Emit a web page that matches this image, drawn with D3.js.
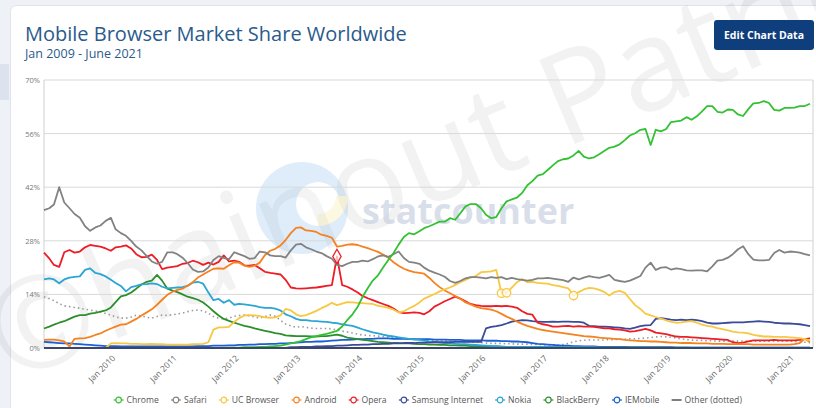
<!DOCTYPE html>
<html lang="en">
<head>
  <meta charset="UTF-8">
  <title>Mobile Browser Market Share Worldwide</title>
  <script src="https://cdn.jsdelivr.net/npm/d3@7/dist/d3.min.js"></script>
  <style>
    body { margin: 0; background: #eef1f6; font-family: "Open Sans", sans-serif; }
    svg { display: block; }
  </style>
</head>
<body>
  <script>
    // Monthly data, Jan 2009 - Jun 2021 (one row per year)
    const startMonth = new Date(2009, 0, 1);
    const endMonth = new Date(2021, 5, 1);
    const months = d3.timeMonth.range(startMonth, d3.timeMonth.offset(endMonth, 1));

    const seriesNames = ["Chrome", "Safari", "UC Browser", "Android", "Opera",
      "Samsung Internet", "Nokia", "BlackBerry", "IEMobile", "Other (dotted)"];

    const chrome = [
      0,0,0,0,0,0,0,0,0,0,0,0,
      0,0,0,0,0,0,0,0,0,0,0,0,
      0,0,0,0,0,0,0,0,0,0,0,0,
      0.1,0.1,0.1,0.2,0.2,0.2,0.3,0.3,0.4,0.5,0.6,0.9,
      1.2,1.5,1.8,2.3,2.8,3.1,3.4,3.7,4.1,4.5,5.6,7.3,
      8.8,10.8,13.3,15.6,17.6,19.0,21.0,23.0,24.8,27.0,29.0,30.0,
      29.7,30.5,31.3,31.8,32.4,33.0,33.0,33.9,33.5,35.2,37.0,37.6,
      37.6,36.5,34.8,33.9,34.2,36.5,38.3,38.8,39.3,40.5,42.5,43.6,
      45.0,45.4,46.5,47.7,48.8,49.3,49.5,50.3,51.5,50.0,49.5,49.8,
      50.6,51.5,52.3,52.6,53.2,54.3,55.5,56.1,57.0,57.2,53.0,57.0,
      56.6,57.2,59.0,59.2,59.4,60.3,59.6,60.5,61.8,63.2,63.2,61.7,
      61.5,62.3,62.2,61.0,60.6,62.4,63.9,64.0,64.5,64.0,62.2,62.0,
      62.7,62.7,62.8,63.2,63.2,63.8
    ];
    const safari = [
      36.0,36.5,37.5,42.0,38.0,36.5,35.0,34.0,31.8,30.6,31.5,32.0,
      33.2,34.0,31.0,30.0,29.3,28.0,26.5,25.5,24.0,22.6,22.0,22.5,
      25.0,25.0,24.5,23.6,22.2,20.5,19.9,20.0,21.0,23.0,24.0,23.5,
      23.2,25.0,24.5,24.0,23.3,23.5,25.2,25.0,24.2,24.0,24.0,23.6,
      25.5,27.0,27.2,26.3,25.8,25.2,24.8,24.0,23.3,21.7,21.4,22.0,
      22.5,22.5,22.8,22.6,23.2,23.9,24.2,23.8,24.5,25.2,23.5,22.5,
      22.3,22.0,21.0,20.2,19.7,19.2,18.6,17.5,17.0,17.5,18.2,18.5,
      18.5,18.4,18.2,18.5,18.3,18.5,18.0,18.3,18.0,17.8,17.6,17.8,
      18.2,18.2,18.3,18.1,17.9,17.7,17.3,18.4,17.9,18.4,18.8,18.5,
      18.3,18.7,19.1,17.8,17.5,17.3,17.6,18.2,18.8,21.0,22.3,20.4,
      21.0,21.1,20.5,20.8,20.6,20.3,20.2,20.3,20.3,20.0,21.3,22.8,
      23.0,23.6,24.5,25.8,26.6,24.5,23.1,22.9,22.9,23.0,24.8,25.6,
      24.9,25.2,25.1,24.9,24.5,24.2
    ];
    const ucBrowser = [
      0,0,0,0,0,0,0,0,0,0,0,0,
      0,1.2,1.3,1.2,1.2,1.1,1.1,1.0,1.0,1.1,1.0,1.0,
      0.9,0.9,0.9,0.9,0.9,1.0,1.0,1.1,1.5,4.8,5.4,5.4,
      5.5,6.8,7.8,8.5,8.6,8.5,8.3,8.0,7.9,8.0,8.5,10.2,
      9.8,8.8,8.3,8.6,9.1,9.7,10.4,11.0,11.8,11.2,11.6,12.0,
      11.9,11.8,11.7,11.6,11.5,11.0,10.8,10.5,10.0,9.3,9.6,10.3,
      11.0,11.9,12.9,13.5,14.1,14.8,15.3,15.8,16.5,17.2,17.8,18.4,
      18.8,19.8,19.9,20.0,20.4,14.3,14.4,15.8,17.2,18.0,17.2,17.3,
      17.0,16.9,16.8,16.4,16.2,15.9,15.6,13.7,14.6,15.3,15.7,15.6,
      15.2,14.6,13.7,14.6,14.9,14.4,12.8,11.2,10.2,9.0,8.5,8.1,
      7.7,7.2,6.8,6.6,6.7,6.9,7.0,6.6,6.1,5.8,5.6,5.2,
      4.9,4.6,4.3,4.1,4.0,3.8,3.4,3.2,3.0,3.0,2.9,2.9,
      2.9,2.8,2.7,2.6,2.3,2.0
    ];
    const android = [
      2.1,2.2,2.2,2.0,1.7,0.4,2.4,2.5,2.6,2.9,3.4,3.8,
      4.5,5.1,5.6,6.1,6.2,6.9,7.6,8.5,9.3,10.1,11.3,12.6,
      13.9,14.7,15.2,15.5,16.3,17.2,18.4,19.2,20.0,20.7,20.8,20.7,
      21.6,22.4,22.3,21.5,21.2,21.5,22.3,24.3,25.4,25.9,26.8,28.2,
      30.0,31.4,31.5,30.7,30.6,30.3,29.6,29.3,28.8,26.5,26.7,27.0,
      27.1,26.9,26.5,26.1,25.6,25.1,24.4,23.6,22.4,21.5,20.7,20.2,
      19.8,19.6,19.4,18.3,17.0,15.9,15.0,14.3,13.6,12.9,11.9,11.4,
      10.8,10.4,10.2,10.0,9.6,8.9,8.2,7.6,6.9,6.3,5.8,5.4,
      5.0,4.7,4.5,4.3,4.1,3.9,3.7,3.5,3.3,3.1,3.0,2.9,
      2.7,2.6,2.5,2.4,2.3,2.1,2.0,1.9,1.8,1.8,1.7,1.7,
      1.6,1.5,1.4,1.4,1.3,1.3,1.3,1.2,1.2,1.2,1.1,1.1,
      1.1,1.0,1.0,1.0,1.0,1.0,0.9,0.9,0.9,0.9,0.9,0.9,
      0.9,0.9,1.0,1.3,2.4,1.6
    ];
    const opera = [
      24.9,23.4,21.7,21.2,25.0,25.6,24.9,25.2,26.3,26.9,26.7,26.5,
      26.0,25.4,26.3,26.5,26.8,26.0,24.5,23.7,23.8,24.4,23.0,20.6,
      21.0,21.2,21.4,22.0,22.2,22.8,22.4,21.7,22.3,21.8,22.5,24.2,
      22.6,22.8,22.5,21.6,21.5,21.7,20.8,19.9,19.6,19.4,19.2,17.8,
      15.8,15.6,15.5,15.6,15.7,15.8,16.0,16.2,16.4,23.9,16.4,16.0,
      15.3,14.5,13.6,13.0,12.5,12.0,11.5,11.0,10.3,9.4,9.1,9.2,
      9.3,9.2,8.8,9.6,10.8,11.5,12.2,12.8,13.4,12.9,12.2,11.5,
      11.2,11.0,10.9,10.9,11.0,10.9,11.0,10.8,10.5,9.6,8.9,8.7,
      6.6,6.2,6.0,5.6,5.6,5.7,5.8,5.6,5.7,5.6,5.6,5.5,
      5.3,5.1,5.1,4.9,4.8,4.6,4.3,4.4,4.7,5.0,4.6,4.0,
      3.8,3.6,3.3,3.0,2.9,2.9,2.8,2.7,2.6,2.5,2.4,2.3,
      2.2,2.1,1.5,1.3,1.4,1.7,2.0,2.0,2.0,2.0,2.1,2.0,
      2.0,2.0,2.0,2.1,2.3,2.5
    ];
    const samsung = [
      0,0,0,0,0,0,0,0,0,0,0,0,
      0,0,0,0,0,0,0,0,0,0,0,0,
      0,0,0,0,0,0,0,0,0,0,0,0,
      0,0,0,0,0,0,0,0,0,0,0,0,
      0.2,0.2,0.3,0.3,0.3,0.4,0.4,0.5,0.5,0.6,0.6,0.7,
      0.8,0.8,0.9,0.9,1.0,1.0,1.1,1.1,1.2,1.2,1.3,1.3,
      1.3,1.4,1.4,1.4,1.5,1.5,1.5,1.5,1.6,1.6,1.6,1.6,
      1.6,1.6,5.1,5.5,5.7,6.0,6.4,6.9,7.1,7.3,7.2,7.0,
      6.9,6.8,6.8,6.9,6.8,6.9,6.9,6.8,6.8,6.6,5.8,5.7,
      5.6,5.6,5.5,5.4,5.3,5.1,5.0,5.3,5.7,5.9,6.0,7.6,
      7.8,7.6,7.4,7.3,7.4,7.3,7.4,7.3,7.0,6.6,6.4,6.4,
      6.5,6.6,6.7,6.7,6.7,6.8,6.9,7.0,6.9,6.8,6.6,6.5,
      6.4,6.4,6.3,6.2,6.0,5.7
    ];
    const nokia = [
      17.9,18.2,17.9,16.9,17.9,18.4,18.6,18.7,20.4,20.8,19.6,19.3,
      18.7,17.8,17.0,16.2,14.8,15.9,16.2,16.6,16.7,16.9,16.7,16.0,
      15.6,15.7,15.8,15.9,16.2,17.1,17.3,16.8,14.5,12.5,12.8,11.8,
      12.5,11.3,11.5,11.4,11.2,11.0,10.7,10.5,10.5,10.3,9.8,8.8,
      8.3,7.6,7.3,7.3,7.1,7.0,6.9,6.8,6.6,6.5,6.2,6.0,
      5.8,5.3,4.9,4.5,4.1,3.8,3.5,3.2,3.0,2.8,2.6,2.4,
      2.2,2.1,1.9,1.7,1.6,1.4,1.3,1.2,1.1,1.0,1.0,0.9,
      0.8,0.7,0.6,0.5,0.5,0.4,0.3,0.3,0.3,0.3,0.3,0.3,
      0.3,0.3,0.3,0.2,0.2,0.2,0.2,0.2,0.2,0.2,0.2,0.2,
      0.1,0.1,0.1,0.1,0.1,0.1,0.1,0.1,0.1,0.1,0.1,0.1,
      0.1,0.1,0.1,0.1,0.1,0.1,0.1,0.1,0.1,0.1,0.1,0.1,
      0.1,0.1,0.1,0.1,0.1,0.1,0.1,0.1,0.1,0.1,0.1,0.1,
      0.1,0.1,0.1,0.1,0.1,0.1
    ];
    const blackberry = [
      5.1,5.6,6.1,6.6,7.0,7.6,8.2,8.6,8.6,9.0,9.2,9.5,
      9.8,10.6,12.0,13.5,13.8,14.5,15.5,16.6,17.3,17.6,19.1,17.6,
      15.5,15.0,14.6,14.0,13.4,13.0,12.6,11.9,10.8,9.6,8.5,7.6,
      7.1,6.6,6.2,5.8,5.5,5.1,4.8,4.5,4.2,3.9,3.7,3.3,
      3.2,3.1,3.1,3.1,3.0,3.0,3.1,3.1,3.3,3.5,3.2,2.7,
      2.5,2.3,2.1,2.0,1.8,1.6,1.5,1.4,1.3,1.3,1.2,1.2,
      1.1,1.0,1.0,0.9,0.9,0.8,0.8,0.7,0.7,0.6,0.6,0.5,
      0.5,0.5,0.4,0.4,0.4,0.3,0.3,0.3,0.3,0.2,0.2,0.2,
      0.2,0.2,0.2,0.2,0.2,0.2,0.1,0.1,0.1,0.1,0.1,0.1,
      0.1,0.1,0.1,0.1,0.1,0.1,0.1,0.1,0.1,0.1,0.1,0.1,
      0.1,0.1,0.1,0.1,0.1,0.1,0,0,0,0,0,0,
      0,0,0,0,0,0,0,0,0,0,0,0,
      0,0,0,0,0,0
    ];
    const ieMobile = [
      1.6,1.5,1.4,1.3,1.2,1.2,1.1,1.0,0.9,0.8,0.7,0.6,
      0.5,0.5,0.5,0.4,0.4,0.4,0.4,0.4,0.4,0.4,0.4,0.4,
      0.4,0.4,0.4,0.4,0.4,0.4,0.5,0.5,0.5,0.6,0.6,0.6,
      0.7,0.7,0.8,0.8,0.9,0.9,1.0,1.0,1.1,1.1,1.2,1.2,
      1.3,1.4,1.5,1.6,1.6,1.7,1.7,1.8,1.9,2.0,2.1,2.1,
      2.2,2.3,2.3,2.4,2.4,2.5,2.5,2.5,2.4,2.4,2.4,2.3,
      2.3,2.3,2.3,2.3,2.2,2.2,2.2,2.1,2.1,2.1,2.0,2.0,
      2.0,2.0,1.9,1.9,1.9,1.8,1.8,1.7,1.7,1.6,1.5,1.3,
      1.1,1.0,0.9,0.8,0.7,0.6,0.6,0.5,0.5,0.4,0.4,0.4,
      0.3,0.3,0.3,0.3,0.3,0.3,0.2,0.2,0.2,0.2,0.2,0.2,
      0.2,0.2,0.2,0.1,0.1,0.1,0.1,0.1,0.1,0.1,0.1,0.1,
      0.1,0.1,0.1,0.1,0.1,0.1,0.1,0.1,0.1,0.1,0.1,0.1,
      0.1,0.1,0.1,0.1,0.1,0.1
    ];
    const other = [
      13.4,12.9,12.4,11.6,11.0,10.8,10.6,10.4,10.1,9.9,9.7,9.4,
      9.0,8.6,8.1,7.8,7.8,8.1,8.6,8.4,8.0,7.8,8.2,8.6,
      8.5,8.7,8.9,9.1,9.5,9.8,9.9,9.7,9.1,8.2,7.8,7.6,
      7.8,8.3,8.5,8.6,8.4,8.1,7.8,8.2,8.6,8.3,7.2,6.3,
      5.8,5.4,5.6,5.4,5.2,5.1,5.1,5.1,5.0,4.7,4.4,4.2,
      3.9,3.6,3.4,3.3,3.2,3.1,3.0,2.9,2.8,2.6,2.5,2.4,
      2.3,2.2,2.1,2.0,1.9,1.9,1.8,1.7,1.7,1.6,1.6,1.5,
      1.5,1.4,1.3,1.2,1.2,1.2,1.1,1.1,1.0,1.0,1.0,0.9,
      0.9,0.8,0.8,0.8,0.8,0.9,1.2,1.6,1.9,2.0,2.1,2.1,
      2.1,2.1,2.2,2.2,2.3,2.3,2.4,2.4,2.5,2.6,2.7,2.9,
      3.0,2.9,2.8,2.6,2.4,2.2,2.1,2.0,2.0,1.9,1.9,1.8,
      1.8,1.8,1.8,1.8,1.8,1.8,1.8,1.8,1.8,1.8,1.8,1.8,
      1.8,1.8,1.7,1.6,1.5,1.4
    ];

    const seriesValues = [chrome, safari, ucBrowser, android, opera,
      samsung, nokia, blackberry, ieMobile, other];
    const seriesColors = ["#33c133", "#828282", "#f7c842", "#f5821f", "#ee1c25",
      "#3a4b9a", "#2aa5d4", "#2c8f2c", "#1b5fd6", "#9a9a9a"];

    const yTicks = [0, 14, 28, 42, 56, 70];
    const xTickYears = [2010, 2011, 2012, 2013, 2014, 2015, 2016, 2017, 2018, 2019, 2020, 2021];

    // highlighted points (hollow markers in the picture)
    const highlights = [
      { series: "Opera", month: 57, shape: "diamond" },
      { series: "UC Browser", month: 89, shape: "circle" },
      { series: "UC Browser", month: 90, shape: "circle" },
      { series: "UC Browser", month: 103, shape: "circle" }
    ];

    const width = 816, height = 408;
    const svg = d3.select("body").append("svg")
      .attr("width", width)
      .attr("height", height);

    // page card
    svg.append("rect").attr("x", 0).attr("y", 0).attr("width", width).attr("height", height)
      .attr("fill", "#eef1f6");
    svg.append("rect").attr("x", 0).attr("y", 64).attr("width", 9).attr("height", 36)
      .attr("fill", "#dde3ee");
    svg.append("rect").attr("x", 10.5).attr("y", 5.5).attr("width", 830).attr("height", 420)
      .attr("rx", 6).attr("fill", "#ffffff").attr("stroke", "#dfe4ec");

    // watermarks
    const wm = svg.append("g");
    wm.append("text")
      .attr("transform", "translate(10,384) rotate(-23)")
      .attr("font-size", 128)
      .attr("font-family", "Open Sans, sans-serif")
      .attr("fill", "#000").attr("fill-opacity", 0.05)
      .text("©hainout Patric");

    const logo = wm.append("g").attr("opacity", 0.22);
    logo.append("circle").attr("cx", 302).attr("cy", 208).attr("r", 46).attr("fill", "#6fb1e8");
    logo.append("circle").attr("cx", 318).attr("cy", 204).attr("r", 22).attr("fill", "#ffffff");
    logo.append("path").attr("d", "M318,226 A30,30 0 0 0 348,196 L336,196 A18,18 0 0 1 318,214 Z")
      .attr("fill", "#f3e27a");
    wm.append("text")
      .attr("x", 362).attr("y", 224)
      .attr("font-size", 36).attr("font-weight", 700)
      .attr("font-family", "Open Sans, sans-serif")
      .attr("fill", "#c9d1e1").attr("fill-opacity", 0.7)
      .text("statcounter");

    // titles
    svg.append("text").attr("x", 25).attr("y", 41)
      .attr("font-size", 20).attr("fill", "#2a5b8c")
      .text("Mobile Browser Market Share Worldwide");
    svg.append("text").attr("x", 25).attr("y", 58)
      .attr("font-size", 12.5).attr("fill", "#2a5b8c")
      .text("Jan 2009 - June 2021");

    // button
    svg.append("rect").attr("x", 714).attr("y", 20).attr("width", 100).attr("height", 30)
      .attr("rx", 3).attr("fill", "#0e3e7c");
    svg.append("text").attr("x", 764).attr("y", 39)
      .attr("text-anchor", "middle").attr("font-size", 10.5).attr("font-weight", 700)
      .attr("fill", "#ffffff").text("Edit Chart Data");

    // scales
    const x = d3.scaleTime().domain([startMonth, endMonth]).range([44, 810]);
    const y = d3.scaleLinear().domain([0, 70]).range([348, 80]);

    // grid
    const grid = svg.append("g");
    grid.selectAll("line")
      .data(yTicks)
      .enter()
      .append("line")
      .attr("x1", 44).attr("x2", 813)
      .attr("y1", d => y(d)).attr("y2", d => y(d))
      .attr("stroke", "#d9d9d9").attr("stroke-width", 1);
    svg.append("line").attr("x1", 44).attr("x2", 44).attr("y1", 80).attr("y2", 348)
      .attr("stroke", "#d0d0d0");
    svg.append("line").attr("x1", 813).attr("x2", 813).attr("y1", 80).attr("y2", 348)
      .attr("stroke", "#d0d0d0");

    // y axis labels
    let axisY = d3.axisLeft(y).tickValues(yTicks).tickSize(0).tickPadding(4)
      .tickFormat(d => d + "%");
    svg.append("g")
      .attr("transform", "translate(44,0)")
      .call(axisY)
      .call(g => g.select(".domain").remove())
      .selectAll("text")
      .attr("font-family", "Open Sans, sans-serif")
      .attr("font-size", 7.5)
      .attr("fill", "#777");

    // x axis labels
    let axisX = d3.axisBottom(x)
      .tickValues(xTickYears.map(yr => new Date(yr, 0, 1)))
      .tickSize(0)
      .tickFormat(d3.timeFormat("Jan %Y"));
    svg.append("g")
      .attr("transform", "translate(0,350)")
      .call(axisX)
      .call(g => g.select(".domain").remove())
      .selectAll("text")
      .attr("font-family", "Open Sans, sans-serif")
      .attr("font-size", 8.5)
      .attr("fill", "#666")
      .attr("text-anchor", "end")
      .attr("dy", "0.6em")
      .attr("transform", "translate(4,3) rotate(-45)");

    // lines
    const line = d3.line()
      .x((d, i) => x(months[i]))
      .y(d => y(d));

    const drawOrder = d3.range(seriesNames.length).reverse();
    const linesG = svg.append("g");
    drawOrder.forEach(k => {
      linesG.append("path")
        .datum(seriesValues[k])
        .attr("fill", "none")
        .attr("stroke", seriesColors[k])
        .attr("stroke-width", seriesNames[k] === "Other (dotted)" ? 1.6 : 1.8)
        .attr("stroke-dasharray", seriesNames[k] === "Other (dotted)" ? "1.5,3" : null)
        .attr("stroke-linejoin", "round")
        .attr("d", line);
    });

    // base line
    svg.append("line").attr("x1", 44).attr("x2", 813).attr("y1", y(0)).attr("y2", y(0))
      .attr("stroke", "#3b4668").attr("stroke-width", 2);

    // markers
    highlights.forEach(h => {
      const k = seriesNames.indexOf(h.series);
      const cx = x(months[h.month]), cy = y(seriesValues[k][h.month]);
      const sym = h.shape === "diamond" ? d3.symbolDiamond : d3.symbolCircle;
      svg.append("path")
        .attr("transform", `translate(${cx},${cy})`)
        .attr("d", d3.symbol().type(sym).size(h.shape === "diamond" ? 60 : 55)())
        .attr("fill", "#fff").attr("fill-opacity", 0.7)
        .attr("stroke", seriesColors[k]).attr("stroke-width", 1.3);
    });

    // legend
    const legend = svg.append("g").attr("transform", "translate(0,400)");
    const items = legend.selectAll("g")
      .data(seriesNames)
      .enter()
      .append("g");
    items.each(function(name, i) {
      const g = d3.select(this);
      if (name === "Other (dotted)") {
        g.append("line").attr("x1", 0).attr("x2", 10).attr("y1", 0).attr("y2", 0)
          .attr("stroke", "#555").attr("stroke-width", 1.5);
      } else {
        g.append("line").attr("x1", 0).attr("x2", 10).attr("y1", 0).attr("y2", 0)
          .attr("stroke", seriesColors[i]).attr("stroke-width", 1.2);
        g.append("circle").attr("cx", 5).attr("cy", 0).attr("r", 2.8)
          .attr("fill", "#fff").attr("stroke", seriesColors[i]).attr("stroke-width", 1.2);
      }
      g.append("text").attr("x", 13).attr("y", 3.2)
        .attr("font-size", 8.6).attr("fill", "#555")
        .text(name);
    });
    let offsets = [], pos = 0;
    items.each(function() {
      offsets.push(pos);
      pos += this.getBBox().width + 12;
    });
    const total = pos - 12;
    const startX = 428 - total / 2;
    items.attr("transform", (d, i) => `translate(${startX + offsets[i]},0)`);
  </script>
</body>
</html>
